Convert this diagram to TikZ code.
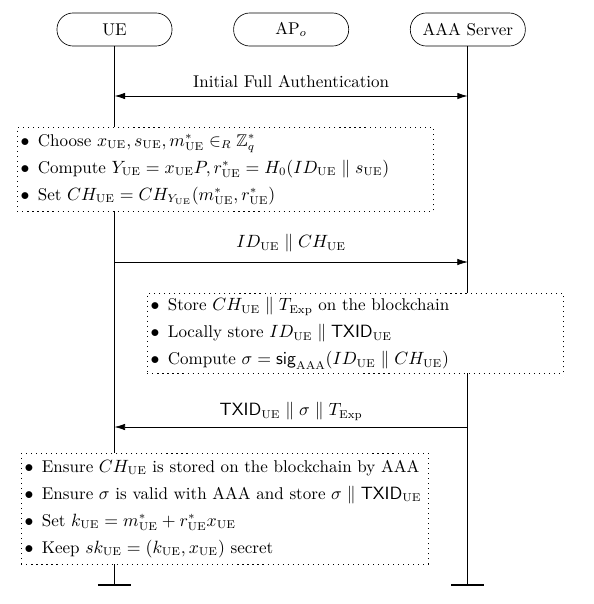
\documentclass[tikz,border=0pt]{standalone}
\usepackage{amsmath,amssymb}
\usetikzlibrary{arrows.meta,positioning}
\newcommand{\rUE}{\mathrm{UE}}
\newcommand{\notebul}{$\bullet$\hspace{5.2pt}}
\tikzset{
  >={Latex[length=6.5pt,width=4pt]},
  actor/.style={draw, rounded corners=10pt, minimum width=71pt, minimum height=20.4pt, inner sep=1pt},
  endbar/.style={line width=1.4pt},
  notebox/.style={draw, dash pattern=on 0.7pt off 2.4pt, fill=white, align=left, anchor=north west, inner xsep=2pt, inner ysep=2pt},
}
\begin{document}
\begin{tikzpicture}[x=0.617pt,y=-0.617pt, font=\fontsize{10.5pt}{12.6pt}\selectfont]
      \useasboundingbox (0,0) rectangle (593,604);
      \node[actor] (ue) at (114.5,29.5) {UE};
      \node[actor, right=37.6pt of ue] (ap) {AP$_o$};
      \node[actor, right=37.6pt of ap] (aaa) {AAA Server};

      \coordinate (endline) at (0,585);
      \coordinate (ue-end) at (ue |- endline);
      \coordinate (aaa-end) at (aaa |- endline);
      \draw (ue) -- (ue-end);
      \draw (aaa) -- (aaa-end);
      \draw[endbar] ([xshift=-10.2pt]ue-end) -- ([xshift=10.2pt]ue-end);
      \draw[endbar] ([xshift=-10.2pt]aaa-end) -- ([xshift=10.2pt]aaa-end);

      \coordinate (m1) at (0,96);
      \coordinate (m2) at (0,262);
      \coordinate (m3) at (0,427);
      \draw[<->, semithick] (ue |- m1) -- (aaa |- m1)
        node[midway, above=1.3pt] (l1) {Initial Full Authentication};
      \draw[->] (ue |- m2) -- (aaa |- m2)
        node[midway, above=2.5pt] (l2) {$ID_{\rUE} \parallel CH_{\rUE}$};
      \draw[->] (aaa |- m3) -- (ue |- m3)
        node[midway, above=0.3pt] (l3) {$\mathsf{TXID}_{\rUE} \parallel \sigma \parallel T_{\mathrm{Exp}}$};

      \node[notebox, minimum height=51.8pt, text width=252.7pt] (box1) at (17,127) {%
        \notebul Choose $x_{\rUE}, s_{\rUE}, m^*_{\rUE} \in_R \mathbb{Z}_q^*$\\[4.1pt]
        \notebul Compute $Y_{\rUE} = x_{\rUE}P, r^*_{\rUE} = H_0(ID_{\rUE} \parallel s_{\rUE})$\\[4.1pt]
        \notebul Set $CH_{\rUE} = CH_{Y_{\rUE}}(m^*_{\rUE}, r^*_{\rUE})$};
      \node[notebox, minimum height=49.4pt, text width=252.7pt] (box2) at (147,293) {%
        \notebul Store $CH_{\rUE} \parallel T_{\mathrm{Exp}}$ on the blockchain\\[4.1pt]
        \notebul Locally store $ID_{\rUE} \parallel \mathsf{TXID}_{\rUE}$\\[4.1pt]
        \notebul Compute $\sigma = \mathsf{sig}_{\mathrm{AAA}}(ID_{\rUE} \parallel CH_{\rUE})$};
      \node[notebox, minimum height=68.5pt, text width=247.1pt] (box3) at (21,453) {%
        \notebul Ensure $CH_{\rUE}$ is stored on the blockchain by AAA\\[4.1pt]
        \notebul Ensure $\sigma$ is valid with AAA and store $\sigma \parallel \mathsf{TXID}_{\rUE}$\\[4.1pt]
        \notebul Set $k_{\rUE} = m^*_{\rUE} + r^*_{\rUE} x_{\rUE}$\\[4.1pt]
        \notebul Keep $sk_{\rUE} = (k_{\rUE}, x_{\rUE})$ secret};
    \end{tikzpicture}
\end{document}
